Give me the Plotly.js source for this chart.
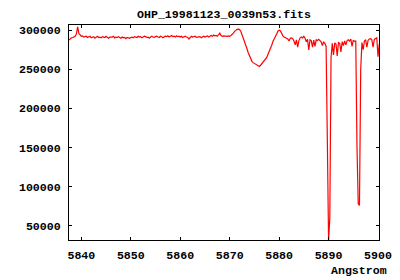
<!DOCTYPE html>
<html>
<head>
<meta charset="utf-8">
<script src="https://cdn.plot.ly/plotly-3.0.1.min.js"></script>
<style>
  html, body { margin: 0; padding: 0; background: #fff; }
  #chart { width: 400px; height: 280px; }
</style>
</head>
<body>
<div id="chart"></div>
<script>
// Wavelength sampling of the spectrum (Angstrom)
var lambdaStart = 5837.5;
var lambdaStep = 0.25;

// Flux, in consecutive wavelength pieces
var fluxContinuum = [
  287000, 289000, 290000, 290500, 291000, 292000, 295000, 304000, 295500, 293000,
  292000, 292500, 291000, 291500, 292000, 290500, 291000, 292000, 290000, 291000,
  291500, 289500, 291000, 292000, 290500, 291000, 290000, 291500, 291000, 290500,
  292000, 291000, 289500, 291000, 290500, 291000, 292000, 290000, 291000, 290500,
  291500, 290000, 289500, 291000, 290000, 290500, 289000, 290500, 290000, 289500,
  290500, 291000, 290000, 291500, 291000, 290500, 292000, 291000, 291500, 290000,
  291000, 292000, 291500, 290500, 291000, 289500, 291000, 292000, 291000, 290500,
  291500, 292000, 291000, 290500, 292000, 291500, 290000, 291000, 292000, 291500,
  292500, 291000, 292000, 293000, 291500, 292000, 291000, 292500, 291500, 292000,
  291000, 292000, 290500, 291500, 292000, 291000, 290500, 288500, 291000, 292000,
  291000, 291500, 292000, 290500, 291000, 292000, 291500, 290000, 291000, 292000,
  291000, 291500, 292500, 291000, 292000, 293000, 292000, 293500, 292500, 293000,
  292000, 294000, 296000, 293000, 292000, 292500, 292000
];
var fluxBumpDip = [
  291500, 292000, 292500, 292000, 293000, 294000, 296000, 298300, 300000, 300800,
  301000, 300500, 298500, 294500, 290000, 285500, 281000, 276000, 271000, 266500,
  263000, 260000, 258300, 257300, 256500, 255500, 255000, 253500, 255000, 256800,
  258300, 260000, 262000, 265000, 269000, 272500, 276500, 280500, 285500, 289500,
  292500, 295000, 298500, 299800, 299000, 295500, 292500, 291000
];
var fluxBeforeD2 = [
  290500, 290000, 288500, 286000, 289500, 290000, 289000, 286000, 281000, 287500,
  278000, 286500, 290000, 291000, 290000, 292000, 289500, 285000, 288000, 274500,
  287500, 286500, 278000, 287000, 279000, 287500, 286500, 288000, 286000, 285000,
  280000, 285000, 283000
];
var fluxD2 = [279000, 160000, 31000, 60000, 265000];
var fluxBetween = [
  283000, 268000, 283500, 282000, 267000, 284000, 283000, 272000, 285000, 280000,
  286000, 281000, 286500, 287500, 286000, 288500, 279000, 287000, 285500, 286000
];
var fluxD1 = [150000, 78000, 76000, 250000, 284000];
var fluxAfterD1 = [
  275000, 286000, 287500, 278000, 287000, 288500, 289000, 287500, 278000, 288000,
  289000, 290000, 266000, 282000
];

var flux = [].concat(fluxContinuum, fluxBumpDip, fluxBeforeD2, fluxD2,
                     fluxBetween, fluxD1, fluxAfterD1);

var xTicks = [5840, 5850, 5860, 5870, 5880, 5890, 5900];
var yTicks = [50000, 100000, 150000, 200000, 250000, 300000];

var tickFont = { family: 'Liberation Mono, DejaVu Sans Mono, monospace', size: 11.6, color: '#000' };

var trace = {
  type: 'scatter',
  mode: 'lines',
  x0: lambdaStart,
  dx: lambdaStep,
  y: flux,
  line: { color: '#ff0000', width: 1.2 },
  hoverinfo: 'skip'
};

var layout = {
  width: 400,
  height: 280,
  margin: { l: 69, r: 21, t: 25, b: 40, pad: 0 },
  paper_bgcolor: '#ffffff',
  plot_bgcolor: '#ffffff',
  showlegend: false,
  title: {
    text: '<b>OHP_19981123_0039n53.fits</b>',
    font: tickFont,
    x: 0.5, xref: 'paper', xanchor: 'center',
    y: 1 - 14 / 280, yref: 'container', yanchor: 'middle'
  },
  xaxis: {
    range: [5837.5, 5900.2],
    tickvals: xTicks,
    ticktext: xTicks.map(function (v) { return '<b>' + v + '</b>'; }),
    ticks: 'inside', ticklen: 3, tickwidth: 1, tickcolor: '#000',
    showline: true, linecolor: '#000', linewidth: 1, mirror: 'ticks',
    showgrid: false, zeroline: false,
    tickfont: tickFont,
    ticklabelstandoff: 4
  },
  yaxis: {
    range: [31760, 306400],
    tickvals: yTicks,
    ticktext: yTicks.map(function (v) { return '<b>' + v + '</b>'; }),
    ticks: 'inside', ticklen: 3, tickwidth: 1, tickcolor: '#000',
    showline: true, linecolor: '#000', linewidth: 1, mirror: 'ticks',
    showgrid: false, zeroline: false,
    tickfont: tickFont,
    ticklabelstandoff: 5
  },
  annotations: [{
    text: '<b>Angstrom</b>',
    xref: 'paper', yref: 'paper',
    x: (388.5 - 69) / 310, xanchor: 'right',
    y: (240 - 270.7) / 215, yanchor: 'middle',
    showarrow: false,
    font: tickFont
  }]
};

Plotly.newPlot('chart', [trace], layout, { staticPlot: true, displayModeBar: false });
</script>
</body>
</html>
